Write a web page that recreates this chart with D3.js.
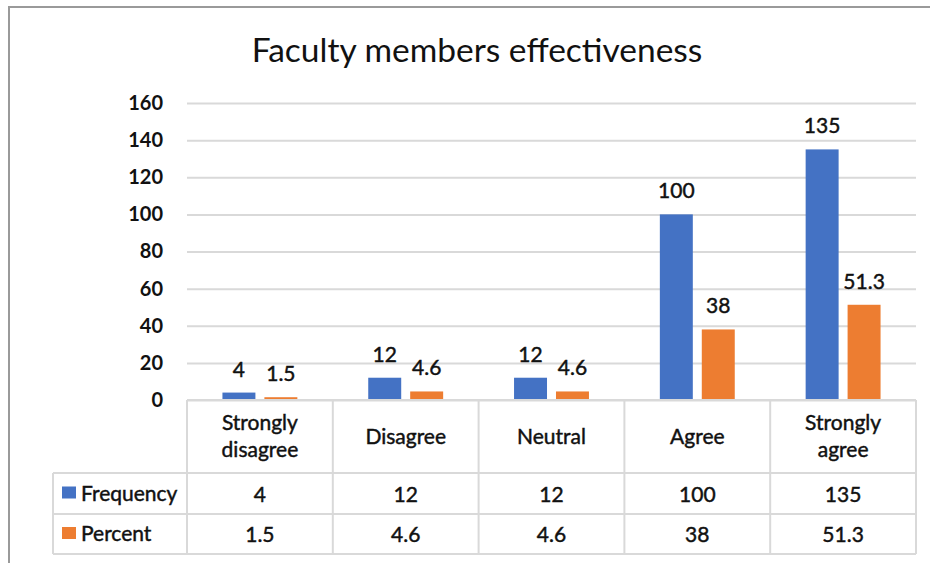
<!DOCTYPE html>
<html>
<head>
<meta charset="utf-8">
<script src="https://cdn.jsdelivr.net/npm/d3@7"></script>
<style>
  body { margin: 0; background: #fff; }
  svg { display: block; font-family: Lato, "Open Sans", sans-serif; }
  .lbl { stroke: #111; stroke-width: 0.45px; }
</style>
</head>
<body>
<div id="chart"></div>
<script>
// chart data
const categories = ["Strongly disagree", "Disagree", "Neutral", "Agree", "Strongly agree"];
const categoryLines = [["Strongly", "disagree"], ["Disagree"], ["Neutral"], ["Agree"], ["Strongly", "agree"]];
const frequency = [4, 12, 12, 100, 135];
const percent = [1.5, 4.6, 4.6, 38, 51.3];
const seriesNames = ["Frequency", "Percent"];
const seriesColors = ["#4472C4", "#ED7D31"];
const yTicks = [0, 20, 40, 60, 80, 100, 120, 140, 160];

const width = 930, height = 563;
const plot = { left: 187, right: 916, top: 103, bottom: 400 };
const rowH = [73, 41, 40]; // header row, frequency row, percent row
const legendLeft = 53;
const textColor = "#111";

const svg = d3.select("#chart").append("svg")
    .attr("width", width)
    .attr("height", height);

// outer frame (left + top edge of the clipped chart box)
svg.append("path")
    .attr("d", `M9,${height} V7 H${width}`)
    .attr("fill", "none")
    .attr("stroke", "#9a9a9a")
    .attr("stroke-width", 2);

svg.append("text")
    .attr("x", 477)
    .attr("y", 62)
    .attr("text-anchor", "middle")
    .style("font-size", "33.5px")
    .style("fill", textColor)
    .text("Faculty members effectiveness");

const x0 = d3.scaleBand().domain(categories).range([plot.left, plot.right]).padding(0);
const x1 = d3.scaleBand().domain(seriesNames).range([0, x0.bandwidth()])
    .paddingInner(0.214).paddingOuter(0.845);
const y = d3.scaleLinear().domain([0, 160]).range([plot.bottom, plot.top]);

// gridlines + tick labels via axis
const yAxis = svg.append("g")
    .attr("transform", `translate(${plot.left},0)`)
    .call(d3.axisLeft(y).tickValues(yTicks).tickSize(-(plot.right - plot.left)).tickPadding(24));
yAxis.select(".domain").remove();
yAxis.selectAll(".tick line").attr("stroke", "#d9d9d9").attr("stroke-width", 2);
yAxis.selectAll(".tick text")
    .style("font-family", "Lato, sans-serif")
    .style("font-size", "20px")
    .style("font-weight", "bold")
    .style("fill", textColor);

const series = [frequency, percent];

series.forEach((vals, si) => {
    const g = svg.append("g");
    g.selectAll("rect").data(vals).join("rect")
        .attr("x", (d, i) => x0(categories[i]) + x1(seriesNames[si]))
        .attr("y", d => y(d))
        .attr("width", x1.bandwidth())
        .attr("height", d => y(0) - y(d))
        .attr("fill", seriesColors[si]);
    g.selectAll("text").data(vals).join("text")
        .attr("class", "lbl")
        .attr("x", (d, i) => x0(categories[i]) + x1(seriesNames[si]) + x1.bandwidth() / 2)
        .attr("y", d => y(d) - 16)
        .attr("text-anchor", "middle")
        .style("font-size", "21px")
        .style("fill", textColor)
        .text(d => d);
});

// data table under the plot
const tbl = svg.append("g");
const rowY = [plot.bottom, plot.bottom + rowH[0], plot.bottom + rowH[0] + rowH[1], plot.bottom + rowH[0] + rowH[1] + rowH[2]];
const lineStyle = s => s.attr("stroke", "#d9d9d9").attr("stroke-width", 2);

// horizontal lines
tbl.append("line").attr("x1", plot.left).attr("x2", plot.right).attr("y1", rowY[0]).attr("y2", rowY[0]).call(lineStyle);
[1, 2, 3].forEach(r => {
    tbl.append("line").attr("x1", legendLeft).attr("x2", plot.right).attr("y1", rowY[r]).attr("y2", rowY[r]).call(lineStyle);
});
// vertical lines
tbl.append("line").attr("x1", legendLeft).attr("x2", legendLeft).attr("y1", rowY[1]).attr("y2", rowY[3]).call(lineStyle);
categories.concat([null]).forEach((c, i) => {
    const xx = c ? x0(c) : plot.right;
    tbl.append("line").attr("x1", xx).attr("x2", xx).attr("y1", rowY[0]).attr("y2", rowY[3]).call(lineStyle);
});

// category headers
categoryLines.forEach((lines, i) => {
    const cx = x0(categories[i]) + x0.bandwidth() / 2;
    const mid = (rowY[0] + rowY[1]) / 2;
    lines.forEach((ln, j) => {
        tbl.append("text")
            .attr("class", "lbl")
            .attr("x", cx)
            .attr("y", mid + (j - (lines.length - 1) / 2) * 27 + 7)
            .attr("text-anchor", "middle")
            .style("font-size", "21px")
            .style("fill", textColor)
            .text(ln);
    });
});

// value rows with legend keys
series.forEach((vals, si) => {
    const mid = (rowY[si + 1] + rowY[si + 2]) / 2;
    tbl.append("rect")
        .attr("x", 62).attr("y", mid - 7)
        .attr("width", 14).attr("height", 12)
        .attr("fill", seriesColors[si]);
    tbl.append("text")
        .attr("class", "lbl")
        .attr("x", 81).attr("y", mid + 7)
        .style("font-size", "21px")
        .style("fill", textColor)
        .text(seriesNames[si]);
    vals.forEach((v, i) => {
        tbl.append("text")
            .attr("class", "lbl")
            .attr("x", x0(categories[i]) + x0.bandwidth() / 2)
            .attr("y", mid + 8)
            .attr("text-anchor", "middle")
            .style("font-size", "21px")
            .style("fill", textColor)
            .text(v);
    });
});
</script>
</body>
</html>
